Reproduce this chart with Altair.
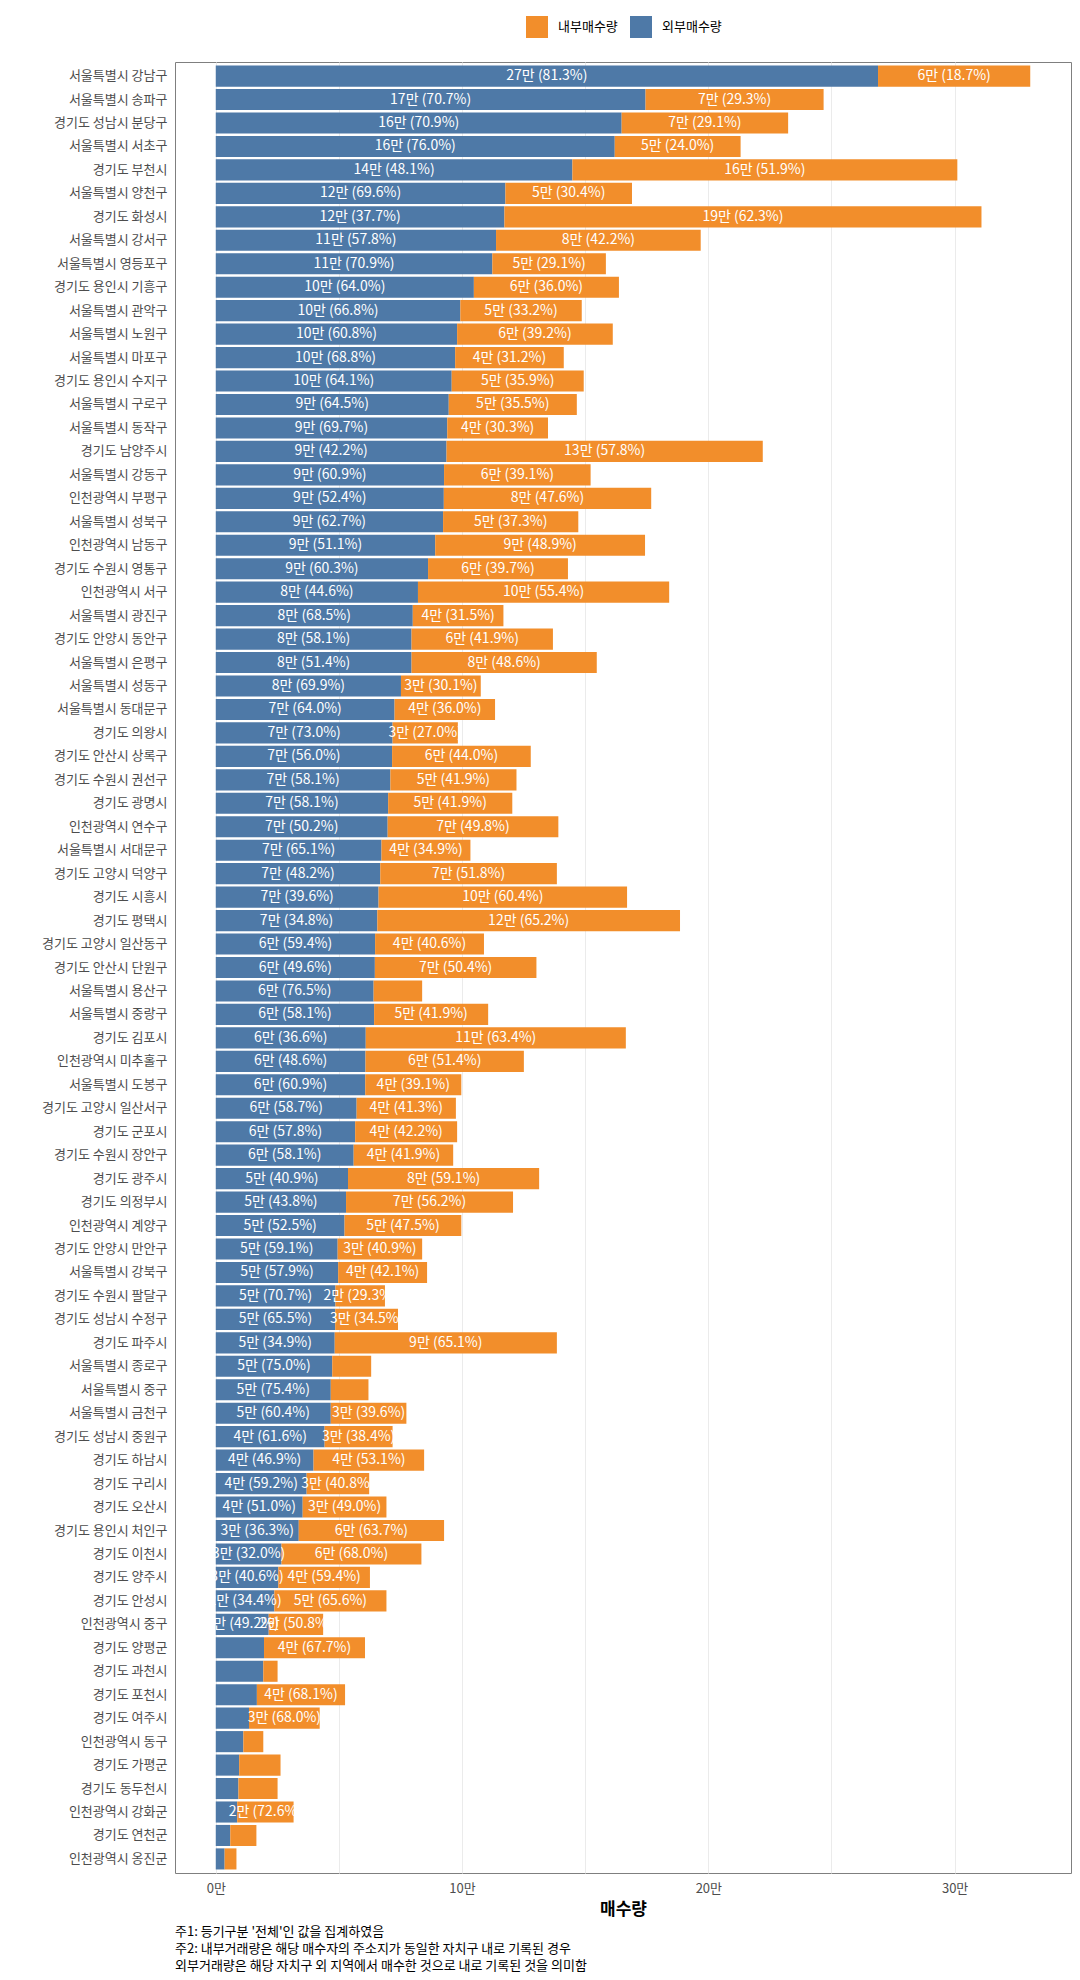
import altair as alt
import pandas as pd

regions = [
    "서울특별시 강남구", "서울특별시 송파구", "경기도 성남시 분당구", "서울특별시 서초구", "경기도 부천시",
    "서울특별시 양천구", "경기도 화성시", "서울특별시 강서구", "서울특별시 영등포구", "경기도 용인시 기흥구",
    "서울특별시 관악구", "서울특별시 노원구", "서울특별시 마포구", "경기도 용인시 수지구", "서울특별시 구로구",
    "서울특별시 동작구", "경기도 남양주시", "서울특별시 강동구", "인천광역시 부평구", "서울특별시 성북구",
    "인천광역시 남동구", "경기도 수원시 영통구", "인천광역시 서구", "서울특별시 광진구", "경기도 안양시 동안구",
    "서울특별시 은평구", "서울특별시 성동구", "서울특별시 동대문구", "경기도 의왕시", "경기도 안산시 상록구",
    "경기도 수원시 권선구", "경기도 광명시", "인천광역시 연수구", "서울특별시 서대문구", "경기도 고양시 덕양구",
    "경기도 시흥시", "경기도 평택시", "경기도 고양시 일산동구", "경기도 안산시 단원구", "서울특별시 용산구",
    "서울특별시 중랑구", "경기도 김포시", "인천광역시 미추홀구", "서울특별시 도봉구", "경기도 고양시 일산서구",
    "경기도 군포시", "경기도 수원시 장안구", "경기도 광주시", "경기도 의정부시", "인천광역시 계양구",
    "경기도 안양시 만안구", "서울특별시 강북구", "경기도 수원시 팔달구", "경기도 성남시 수정구", "경기도 파주시",
    "서울특별시 종로구", "서울특별시 중구", "서울특별시 금천구", "경기도 성남시 중원구", "경기도 하남시",
    "경기도 구리시", "경기도 오산시", "경기도 용인시 처인구", "경기도 이천시", "경기도 양주시",
    "경기도 안성시", "인천광역시 중구", "경기도 양평군", "경기도 과천시", "경기도 포천시",
    "경기도 여주시", "인천광역시 동구", "경기도 가평군", "경기도 동두천시", "인천광역시 강화군",
    "경기도 연천군", "인천광역시 옹진군",
]

# 외부매수량 (blue)
outer = [
    268900, 174500, 164800, 162000, 144800, 117600, 117200, 113800, 112300, 104800,
    99300, 98000, 97200, 95800, 94600, 94000, 93700, 92700, 92600, 92300,
    89100, 86200, 82100, 80000, 79500, 79500, 75200, 72600, 71800, 71600,
    70900, 70000, 69800, 67300, 66800, 66100, 65600, 64700, 64600, 64100,
    64300, 60900, 60800, 60700, 57200, 56600, 56000, 53700, 52900, 52300,
    49500, 49700, 48600, 48500, 48300, 47300, 46700, 46700, 44200, 39700,
    36900, 35300, 33700, 26700, 25400, 23800, 21500, 19600, 19300, 16700,
    13500, 11200, 9500, 9200, 8700, 5900, 3600,
]

# 내부매수량 (orange)
inner = [
    61800, 72300, 67600, 51100, 156300, 51400, 193700, 83100, 46100, 58900,
    49300, 63200, 44100, 53600, 52000, 40900, 128400, 59500, 84200, 54900,
    85200, 56800, 102000, 36800, 57400, 75200, 32400, 40800, 26500, 56300,
    51200, 50400, 69300, 36100, 71700, 100900, 122900, 44200, 65600, 19700,
    46300, 105600, 64300, 39000, 40300, 41400, 40400, 77600, 67800, 47400,
    34300, 36100, 20100, 25500, 90200, 15800, 15300, 30700, 27600, 44900,
    25400, 34000, 59000, 56800, 37200, 45500, 22100, 41000, 5800, 35800,
    28700, 8100, 16800, 15900, 22900, 10600, 4800,
]

# share of 외부매수량 (%)
pct_outer = [
    81.3, 70.7, 70.9, 76.0, 48.1, 69.6, 37.7, 57.8, 70.9, 64.0,
    66.8, 60.8, 68.8, 64.1, 64.5, 69.7, 42.2, 60.9, 52.4, 62.7,
    51.1, 60.3, 44.6, 68.5, 58.1, 51.4, 69.9, 64.0, 73.0, 56.0,
    58.1, 58.1, 50.2, 65.1, 48.2, 39.6, 34.8, 59.4, 49.6, 76.5,
    58.1, 36.6, 48.6, 60.9, 58.7, 57.8, 58.1, 40.9, 43.8, 52.5,
    59.1, 57.9, 70.7, 65.5, 34.9, 75.0, 75.4, 60.4, 61.6, 46.9,
    59.2, 51.0, 36.3, 32.0, 40.6, 34.4, 49.2, 32.3, 76.9, 31.9,
    32.0, 58.0, 36.1, 36.7, 27.4, 35.8, 42.9,
]

types = ["내부매수량", "외부매수량"]
colors = ["#F28E2B", "#4E79A7"]
tick_values = [0, 50000, 100000, 150000, 200000, 250000, 300000]
caption = [
    "주1: 등기구분 '전체'인 값을 집계하였음",
    "주2: 내부거래량은 해당 매수자의 주소지가 동일한 자치구 내로 기록된 경우",
    "\u00a0외부거래량은 해당 자치구 외 지역에서 매수한 것으로 내로 기록된 것을 의미함",
]

rows = []
for r, o, i, p in zip(regions, outer, inner, pct_outer):
    rows.append({"region": r, "type": "외부매수량", "value": o, "share": p, "ord": 0})
    rows.append({"region": r, "type": "내부매수량", "value": i, "share": round(100 - p, 1), "ord": 1})
df = pd.DataFrame(rows)

FONT = "Noto Sans CJK KR"

xscale = alt.Scale(domain=[-16550, 347250], nice=False, zero=False)
xaxis = alt.Axis(
    values=tick_values,
    labelExpr="datum.value % 100000 == 0 ? (datum.value / 10000) + '만' : ''",
    grid=True, gridColor="#EBEBEB", gridWidth=1,
    ticks=False, domain=False, labelFontSize=13, labelColor="#4D4D4D",
    labelPadding=9, labelFlush=False, labelOverlap=False,
    title="매수량", titleFontSize=17, titleFontWeight="bold", titleColor="black",
    titlePadding=6,
)
yscale = alt.Scale(paddingInner=0.1, paddingOuter=0.15)
yaxis = alt.Axis(
    title=None, ticks=False, domain=False, grid=False,
    labelFontSize=13, labelColor="#4D4D4D", labelPadding=8, labelLimit=300,
)

base = alt.Chart(df).transform_stack(
    stack="value", groupby=["region"], as_=["v0", "v1"],
    sort=[alt.SortField(field="ord", order="ascending")],
).transform_calculate(
    mid="(datum.v0 + datum.v1) / 2",
    label="format(round(datum.value / 10000), 'd') + '만 (' + format(datum.share, '.1f') + '%)'",
)

bars = base.mark_bar().encode(
    y=alt.Y("region:N", sort=regions, scale=yscale, axis=yaxis),
    x=alt.X("v0:Q", scale=xscale, axis=xaxis),
    x2="v1:Q",
    color=alt.Color(
        "type:N",
        scale=alt.Scale(domain=types, range=colors),
        legend=alt.Legend(
            title=None, orient="none", legendX=351, legendY=-46,
            direction="horizontal", symbolType="square", symbolSize=484,
            symbolStrokeWidth=0, symbolOpacity=1, labelFontSize=13,
            labelColor="black", labelOffset=10, columnPadding=12, padding=0,
        ),
    ),
)

text = base.transform_filter("datum.value >= 20000").mark_text(
    color="white", fontSize=14, font=FONT
).encode(
    y=alt.Y("region:N", sort=regions, scale=yscale, axis=yaxis),
    x=alt.X("mid:Q", scale=xscale, axis=xaxis),
    text="label:N",
)

chart = alt.layer(bars, text).properties(
    width=896,
    height=1811,
    autosize=alt.AutoSizeParams(type="none"),
    padding={"left": 175, "top": 62, "right": 9, "bottom": 107},
    title=alt.TitleParams(
        text=caption, orient="bottom", anchor="start", frame="group",
        fontSize=13, fontWeight="normal", color="black", lineHeight=17,
        offset=9, font=FONT,
    ),
).configure(font=FONT).configure_view(stroke="#7F7F7F", strokeWidth=1)

chart.save("out.html", embed_options={"renderer": "svg", "actions": False})
